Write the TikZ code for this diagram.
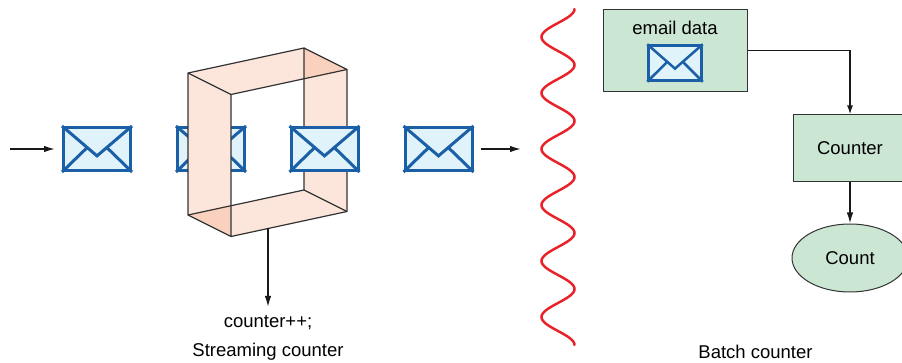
\documentclass[tikz,border=0pt]{standalone}
\usepackage{fontspec}
\setmainfont{Liberation Sans}
\usetikzlibrary{calc,arrows.meta,shapes.geometric}

\definecolor{mailblue}{RGB}{27,95,167}
\definecolor{mailfill}{RGB}{224,243,251}
\definecolor{boxgreen}{RGB}{204,230,212}
\definecolor{wallpink}{RGB}{252,229,218}
\definecolor{walldeep}{RGB}{249,209,190}
\definecolor{edgegray}{RGB}{51,51,51}
\definecolor{wavered}{RGB}{230,36,42}

\tikzset{
	mail/.style={draw=mailblue, fill=mailfill, line width=3pt, minimum width=67pt, minimum height=43pt, inner sep=0pt},
	smallmail/.style={mail, line width=2.5pt, minimum width=53pt, minimum height=35pt},
	mailfold/.style={draw=mailblue, line width=3pt},
	greenbox/.style={draw=edgegray, fill=boxgreen, line width=1pt, inner sep=0pt},
	wall/.style={fill=wallpink},
	corner/.style={fill=walldeep},
	rim/.style={draw=edgegray, line width=1.2pt, line join=round},
	link/.style={draw=black!90, line width=1.5pt, -{Latex[length=11pt,width=6.5pt]}},
	wave/.style={draw=wavered, line width=2.5pt, line cap=round},
	label/.style={inner sep=0pt}
}

% flap and fold lines inside an envelope node
\newcommand{\mailfolds}[2]{%
	\coordinate (#1-v) at ($(#1.south)!0.35!(#1.north)$);
	\draw[mailfold, line width=#2] (#1.north west) -- (#1-v) -- (#1.north east);
	\draw[mailfold, line width=#2] (#1.south west) -- ($(#1.north west)!0.72!(#1-v)$);
	\draw[mailfold, line width=#2] (#1.south east) -- ($(#1.north east)!0.72!(#1-v)$);
}

\begin{document}
\begin{tikzpicture}[x=1pt, y=-1pt, font=\fontsize{18.5}{22}\selectfont]
	\useasboundingbox (0,0) rectangle (902,363);
	\clip (0,0) rectangle (902,363);

	% streaming side
	\node[mail] (mailA) at (97,149) {};
	\mailfolds{mailA}{3pt}
	\node[mail] (mailB) at (211,149) {};
	\mailfolds{mailB}{3pt}

	% the counting frame, front rim and back rim
	\coordinate (fTL) at (188,73);
	\coordinate (fTR) at (304,48);
	\coordinate (fBR) at (304,190);
	\coordinate (fBL) at (188,215);
	\coordinate (bTL) at (231,94.5);
	\coordinate (bTR) at (347,69.5);
	\coordinate (bBR) at (347,211.5);
	\coordinate (bBL) at (231,236.5);

	\fill[wall] (fTL) -- (bTL) -- (bBL) -- (fBL) -- cycle;
	\fill[wall] (fTL) -- (fTR) -- (bTR) -- (bTL) -- cycle;
	\fill[wall] (fTR) -- (bTR) -- (bBR) -- (fBR) -- cycle;
	\fill[wall] (fBL) -- (fBR) -- (bBR) -- (bBL) -- cycle;
	% where two walls are seen through each other
	\fill[corner] (fTR) -- (bTR) -- ($(bTL)!0.6293!(bTR)$) -- cycle;
	\fill[corner] (fBL) -- (bBL) -- ($(fBL)!0.3707!(fBR)$) -- cycle;

	\draw[rim] (fTL) -- (fTR) -- (fBR) -- (fBL) -- cycle;
	\draw[rim] (bTL) -- (bTR) -- (bBR) -- (bBL) -- cycle;
	\foreach \p in {TL, TR, BR, BL}
		\draw[rim] (f\p) -- (b\p);

	\node[mail] (mailC) at (324.5,149) {};
	\mailfolds{mailC}{3pt}
	\node[mail] (mailD) at (438.5,149) {};
	\mailfolds{mailD}{3pt}

	\coordinate (inlet) at (10,149);
	\coordinate (outlet) at (521,149);
	\draw[link, shorten >=7pt] (inlet) -- (mailA.west);
	\draw[link, shorten <=7pt] (mailD.east) -- (outlet);

	\coordinate (stem) at (268,228.5);
	\coordinate (stemend) at (268,307);
	\draw[link] (stem) -- (stemend);
	\node[label] (incr) at (268,323) {counter++;};
	\node[label] (streamlabel) at (268,352) {Streaming counter};

	% boundary between the two halves
	\draw[wave] plot[domain=9:345, samples=241, smooth] ({558+16.5*cos((\x-9)*6.428571)}, \x);

	% batch side
	\node[greenbox, minimum width=144pt, minimum height=82pt] (emailbox) at (675,50.5) {};
	\node[label] (emaillabel) at (675,28) {email data};
	\node[smallmail] (mailE) at (675,63) {};
	\mailfolds{mailE}{2.5pt}

	\node[greenbox, minimum width=114pt, minimum height=67pt] (counter) at (850,148.5) {Counter};
	\node[greenbox, ellipse, minimum width=116pt, minimum height=68pt] (count) at (850,258) {Count};

	\draw[link, -{Latex[length=9pt,width=6pt]}] (emailbox.east) -| (counter.north);
	\draw[link] (counter.south) -- (count.north);

	\node[label] (batchlabel) at (755.5,352) {Batch counter};
\end{tikzpicture}
\end{document}
